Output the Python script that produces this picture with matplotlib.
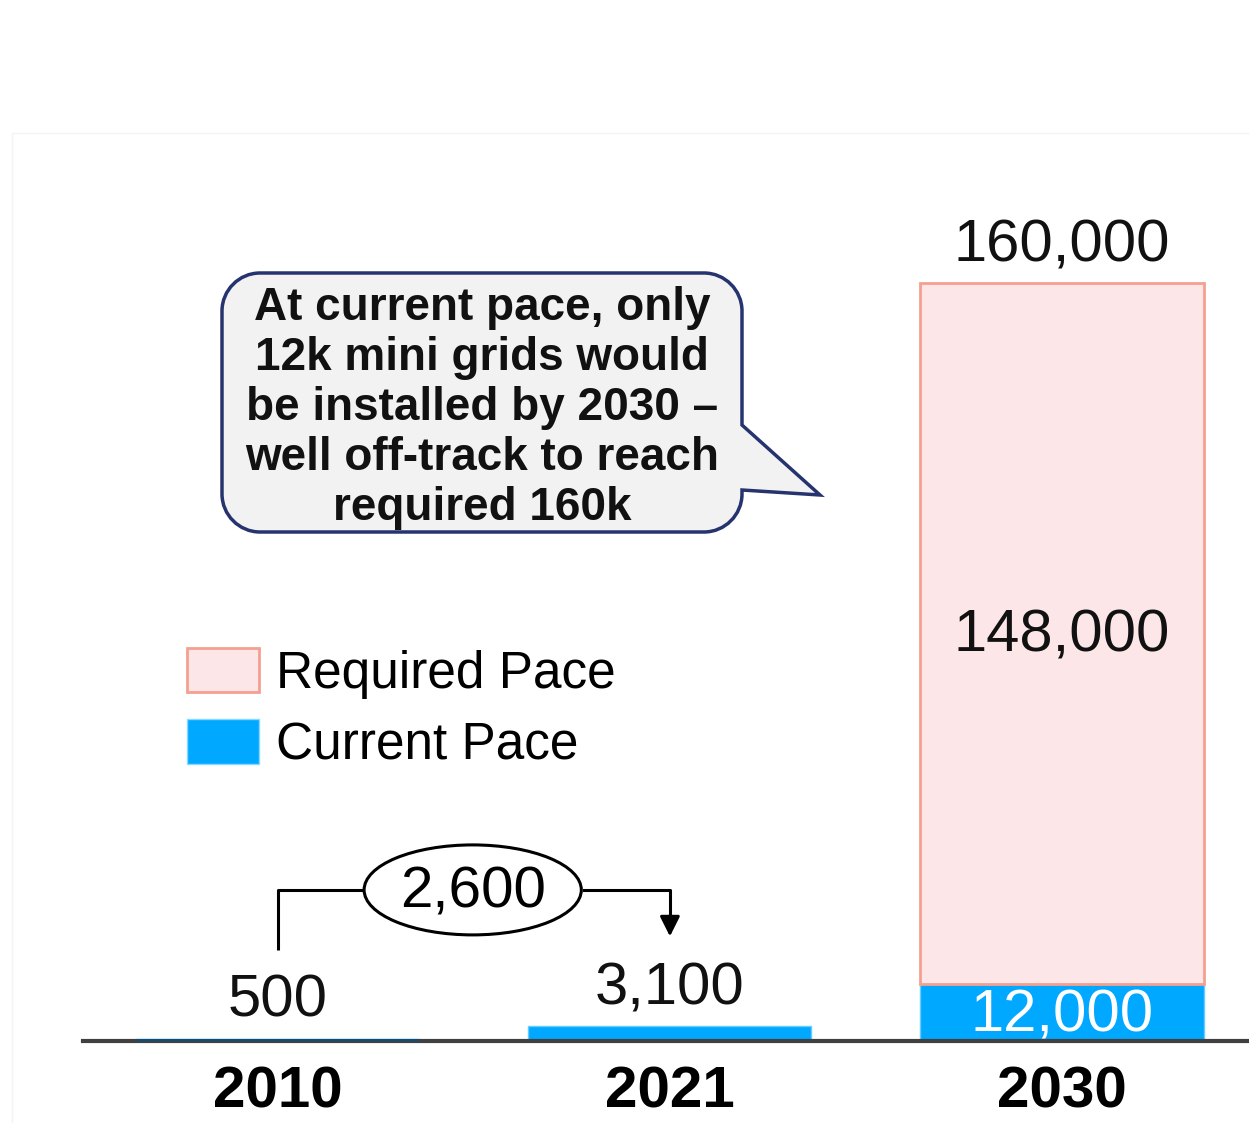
import numpy as np
import matplotlib.pyplot as plt
from matplotlib.patches import Patch, Ellipse, PathPatch, Rectangle
from matplotlib.path import Path
from matplotlib.transforms import Affine2D

plt.rcParams['font.family'] = ['Liberation Sans', 'DejaVu Sans']

years = ['2010', '2021', '2030']
current_pace = [500, 3100, 12000]
required_extra = [0, 0, 148000]
total_labels = ['500', '3,100', '160,000']
gap_label = '2,600'
callout = ('At current pace, only\n12k mini grids would\nbe installed by 2030 \u2013\n'
           'well off-track to reach\nrequired 160k')

blue = '#00A8FF'
pink = '#FDE6E8'
salmon = '#F4A090'

W, H = 1249, 1123
fig = plt.figure(figsize=(W / 100, H / 100), dpi=100)
# pixel coords measured from the top-left corner
px = Affine2D().scale(1 / W, -1 / H).translate(0, 1) + fig.transFigure

ax = fig.add_axes([83 / W, 82 / H, 1 - 83 / W, 908 / H])
x = np.arange(len(years))
ax.bar(x, current_pace, width=0.722, color=blue, edgecolor='#66CCFF', linewidth=1, zorder=2)
ax.bar(x[2], required_extra[2], bottom=current_pace[2], width=0.722, color=pink,
       edgecolor=salmon, linewidth=2, zorder=2)
# 2010 bar is only a sliver; draw it dark so it shows above the axis line
ax.bar(x[0], current_pace[0], width=0.722, color='#0A4F7C', zorder=3)
ax.set_xlim(-0.497, 2.477)
ax.set_ylim(0, 191700)

for s in ['top', 'right', 'left']:
    ax.spines[s].set_visible(False)
ax.spines['bottom'].set_color('#404040')
ax.spines['bottom'].set_linewidth(3)
ax.set_yticks([])
ax.set_xticks(x)
ax.set_xticklabels(years, fontsize=42, fontweight='bold')
ax.tick_params(axis='x', length=0, pad=18)

tops = [current_pace[0], current_pace[1], current_pace[2] + required_extra[2]]
for xi, t, lab in zip(x, tops, total_labels):
    ax.annotate(lab, (xi, t), xytext=(0, 27), textcoords='offset points',
                ha='center', va='center', fontsize=43, color='#111111')
ax.text(2, current_pace[2] + required_extra[2] / 2 - 600, '148,000', ha='center', va='center',
        fontsize=43, color='#111111')
ax.text(2, current_pace[2] / 2 - 700, '12,000', ha='center', va='center', fontsize=43,
        color='white', zorder=4)

# growth bracket 2010 -> 2021
ax.plot([0, 0, 0.22], [19200, 31900, 31900], color='black', lw=2.2, solid_capstyle='butt')
ax.plot([0.78, 1, 1], [31900, 31900, 26000], color='black', lw=2.2)
ax.annotate('', xy=(1, 21500), xytext=(1, 27000),
            arrowprops=dict(arrowstyle='-|>', color='black', lw=2.2, mutation_scale=30))
ax.add_patch(Ellipse((0.497, 31900), 0.554, 19000, facecolor='white', edgecolor='black',
                     lw=2.2, zorder=3))
ax.text(0.497, 31300, gap_label, ha='center', va='center', fontsize=42, zorder=4)

# legend
handles = [Patch(facecolor=pink, edgecolor=salmon, lw=2, label='Required Pace'),
           Patch(facecolor=blue, edgecolor='#88D8FF', lw=1, label='Current Pace')]
fig.legend(handles=handles, loc='upper left', bbox_to_anchor=(187 / W, 1 - 648 / H),
           frameon=False, fontsize=37, handlelength=1.4, handleheight=0.95,
           handletextpad=0.33, labelspacing=0.4, borderpad=0, borderaxespad=0)

# speech bubble
l, r, t, b, rad = 222, 742, 273, 532, 38
k = 0.55 * rad
verts = [(l + rad, t), (r - rad, t),
         (r - rad + k, t), (r, t + rad - k), (r, t + rad),
         (r, 425), (820, 495), (r, 490), (r, b - rad),
         (r, b - rad + k), (r - rad + k, b), (r - rad, b),
         (l + rad, b),
         (l + rad - k, b), (l, b - rad + k), (l, b - rad),
         (l, t + rad),
         (l, t + rad - k), (l + rad - k, t), (l + rad, t), (l + rad, t)]
codes = [Path.MOVETO, Path.LINETO,
         Path.CURVE4, Path.CURVE4, Path.CURVE4,
         Path.LINETO, Path.LINETO, Path.LINETO, Path.LINETO,
         Path.CURVE4, Path.CURVE4, Path.CURVE4,
         Path.LINETO,
         Path.CURVE4, Path.CURVE4, Path.CURVE4,
         Path.LINETO,
         Path.CURVE4, Path.CURVE4, Path.CURVE4, Path.CLOSEPOLY]
fig.patches.append(PathPatch(Path(verts, codes), transform=px, facecolor='#F2F2F2',
                             edgecolor='#25336E', lw=2.5))
fig.text(482, 408, callout, transform=px, ha='center', va='center', fontsize=33,
         fontweight='bold', linespacing=1.17, color='#111111')

# faint frame of the original slide
fig.patches.append(Rectangle((12, 133), 1300, 1000, transform=px, fill=False,
                             edgecolor='#F4F4F4', lw=1, zorder=0))

fig.savefig('out.png', dpi=100)
